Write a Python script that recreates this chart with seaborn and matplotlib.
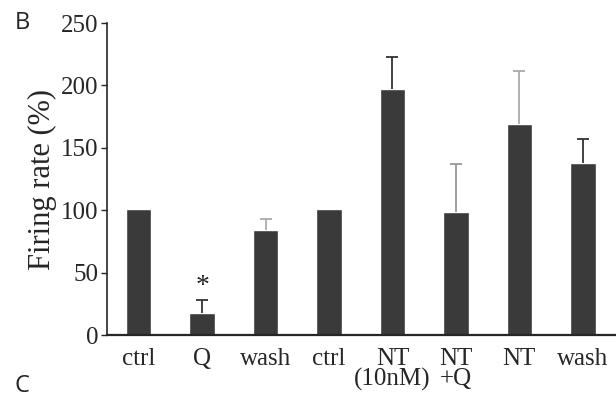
import numpy as np
import pandas as pd
import seaborn as sns
import matplotlib.pyplot as plt

# firing rate data (% of control)
labels = ['ctrl', 'Q', 'wash', 'ctrl', 'NT\n(10nM)', 'NT\n+Q', 'NT', 'wash']
rate = [101, 18, 84, 101, 197, 99, 169, 138]
sem_up = [0, 10, 9, 0, 26, 38, 43, 19]
err_colors = ['#333333', '#333333', '#aaaaaa', '#333333', '#333333', '#999999', '#aaaaaa', '#333333']

df = pd.DataFrame({'cond': [str(i) for i in range(len(labels))], 'rate': rate})

sns.set_style('ticks')
plt.rcParams['font.family'] = ['Liberation Serif', 'DejaVu Serif']

fig = plt.figure(figsize=(6.16, 3.98), dpi=100)
ax = fig.add_axes([0.1737, 0.158, 0.826, 0.784])

sns.barplot(data=df, x='cond', y='rate', color='#3a3a3a', saturation=1,
            width=0.4, errorbar=None, ax=ax)

# upper-only error bars
for bar, e, c in zip(ax.patches, sem_up, err_colors):
    if e > 0:
        xc = bar.get_x() + bar.get_width() / 2
        _, caps, _ = ax.errorbar(xc, bar.get_height(), yerr=[[0], [e]], fmt='none',
                                 ecolor=c, elinewidth=1.3, capsize=4, capthick=1.3)
        caps[0].set_visible(False)

# significance star over Q
ax.text(1, 39, '*', ha='center', va='center', fontsize=20, color='#222222')

ax.set_ylim(0, 250)
ax.set_xlim(-0.5, 7.52)
ax.set_yticks([0, 50, 100, 150, 200, 250])
ax.set_xticks(range(len(labels)))
ax.set_xticklabels(labels, fontsize=18, linespacing=0.9)
ax.tick_params(axis='y', labelsize=18, length=4, width=1, direction='out', pad=2)
ax.tick_params(axis='x', length=0, pad=9)
ax.set_xlabel('')
ax.set_ylabel('Firing rate (%)', fontsize=22, labelpad=3)

sns.despine(ax=ax)
ax.spines['left'].set_linewidth(1.2)
ax.spines['bottom'].set_linewidth(1.6)

fig.text(0.024, 0.972, 'B', fontsize=17, family='Open Sans', va='top', ha='left')
fig.text(0.024, 0.0, 'C', fontsize=17, family='Open Sans', va='bottom', ha='left')

fig.savefig('out.png', dpi=100)
